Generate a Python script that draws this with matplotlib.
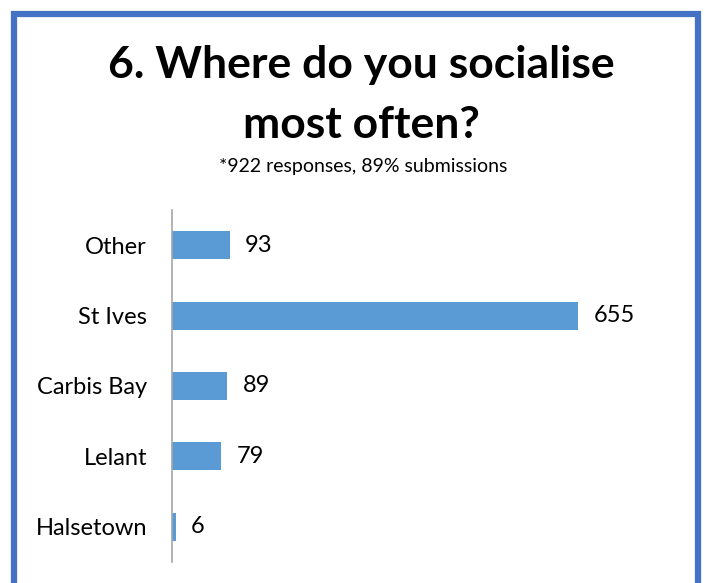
import matplotlib
matplotlib.use("Agg")
import matplotlib.pyplot as plt
from matplotlib.patches import Rectangle

categories = ["Other", "St Ives", "Carbis Bay", "Lelant", "Halsetown"]
counts = [93, 655, 89, 79, 6]

title_lines = ["6. Where do you socialise", "most often?"]
subtitle = "*922 responses, 89% submissions"

bar_color = "#5B9BD5"
frame_color = "#4472C4"

plt.rcParams["font.family"] = ["Lato", "DejaVu Sans"]

W, H = 705, 583
fig = plt.figure(figsize=(W / 100, H / 100), dpi=100)

# plot area in pixel coordinates
left, right, top, bottom = 172, 606, 210, 562
ax = fig.add_axes([left / W, 1 - bottom / H, (right - left) / W, (bottom - top) / H])

ypos = list(range(len(categories)))
ax.barh(ypos, counts, height=0.4, color=bar_color)
ax.set_ylim(len(categories) - 0.5, -0.5)
ax.set_xlim(0, 700)
ax.set_yticks(ypos)
ax.set_yticklabels(categories, fontsize=17)
ax.tick_params(axis="y", length=0, pad=18)
ax.set_xticks([])
for s in ["top", "right", "bottom"]:
    ax.spines[s].set_visible(False)
ax.spines["left"].set_color("#A6A6A6")
ax.spines["left"].set_linewidth(1.2)

for y, v in zip(ypos, counts):
    ax.annotate(str(v), (v, y), xytext=(11, 0), textcoords="offset points",
                va="center", ha="left", fontsize=17)

fig.text(361 / W, 1 - 78 / H, title_lines[0], ha="center", va="baseline",
         fontsize=32, fontweight="bold")
fig.text(361 / W, 1 - 138 / H, title_lines[1], ha="center", va="baseline",
         fontsize=32, fontweight="bold")
fig.text(363 / W, 1 - 172 / H, subtitle, ha="center", va="baseline", fontsize=14)

# outer frame, open at the bottom edge
fig.patches.append(Rectangle((14 / W, -0.1), (698 - 14) / W, (1 - 14 / H) + 0.1,
                             transform=fig.transFigure, fill=False,
                             edgecolor=frame_color, linewidth=4.5))

fig.savefig("out.png", dpi=100)
